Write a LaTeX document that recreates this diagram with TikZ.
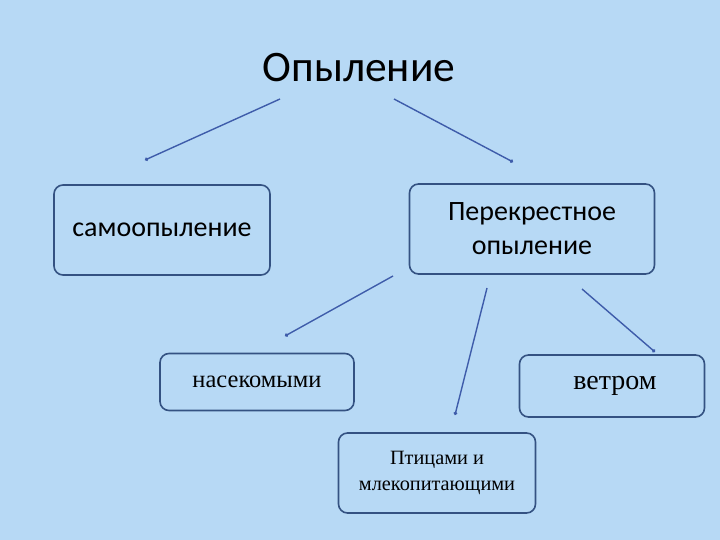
\documentclass[tikz,border=0pt]{standalone}
\usepackage{fontspec}
\setmainfont{Liberation Serif}
\newfontfamily\slidesans{Carlito}
\usetikzlibrary{arrows.meta}

\definecolor{slidebg}{RGB}{183,217,245}
\definecolor{boxline}{RGB}{52,82,130}
\definecolor{linkline}{RGB}{62,92,170}

\begin{document}
\begin{tikzpicture}[x=1pt, y=-1pt,
    box/.style={draw=boxline, line width=1.6pt, rounded corners=9pt, inner sep=0pt, align=center},
    link/.style={linkline, line width=1.4pt, -{Circle[length=3.5pt]}},
    sanstext/.style={font=\slidesans\fontsize{28}{34}\selectfont},
]
% background
\fill[slidebg] (0,0) rectangle (720,540);
\useasboundingbox (0,0) rectangle (720,540);

% title
\node[font=\slidesans\fontsize{43.5}{48}\selectfont] (title) at (359,68) {Опыление};

% first level
\node[box, sanstext, minimum width=216pt, minimum height=90pt] (self) at (162,230) {самоопыление};
\node[box, sanstext, minimum width=245pt, minimum height=90pt] (cross) at (532,229) {Перекрестное\\опыление};

% second level
\node[box, font=\fontsize{24.5}{28}\selectfont, minimum width=194pt, minimum height=57pt] (insects) at (257,382) {насекомыми};
\node[box, font=\fontsize{28}{32}\selectfont, minimum width=185pt, minimum height=62pt] (wind) at (612,386) {\hspace*{6pt}ветром};
\node[box, font=\fontsize{20.3}{26}\selectfont, minimum width=197pt, minimum height=80pt] (birds) at (437,473) {Птицами и\\млекопитающими};

% connector ends
\coordinate (t1) at (280,99);
\coordinate (s1) at (145,160);
\coordinate (t2) at (394,99);
\coordinate (c1) at (513,162);
\coordinate (c2) at (393,276);
\coordinate (i1) at (285,336);
\coordinate (c3) at (487,288);
\coordinate (b1) at (455,415);
\coordinate (c4) at (582,289);
\coordinate (w1) at (655,352);

\draw[link] (t1) -- (s1);
\draw[link] (t2) -- (c1);
\draw[link] (c2) -- (i1);
\draw[link] (c3) -- (b1);
\draw[link] (c4) -- (w1);

\end{tikzpicture}
\end{document}
